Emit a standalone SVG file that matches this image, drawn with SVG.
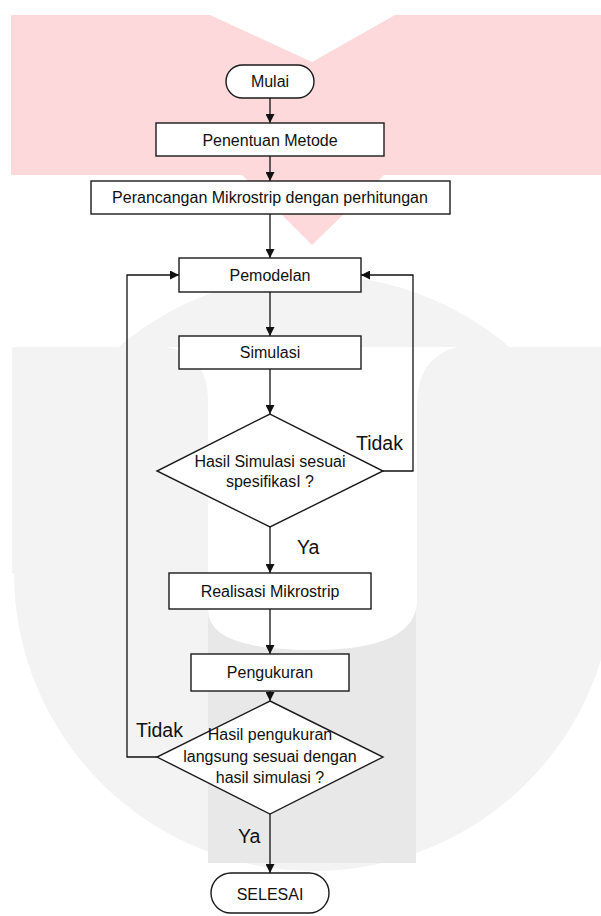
<svg xmlns="http://www.w3.org/2000/svg" width="601" height="916" viewBox="0 0 601 916">
<style>
.box{fill:#fff;stroke:#1a1a1a;stroke-width:1.4}
.t{font-family:"Liberation Sans",Arial,sans-serif;font-size:16px;fill:#111;text-anchor:middle}
.lbl{font-family:"Liberation Sans",Arial,sans-serif;font-size:19.5px;fill:#111}
.c{fill:none;stroke:#111;stroke-width:1.3}
</style>
<defs>
<marker id="ah" viewBox="0 0 10 10" refX="10" refY="5" markerWidth="9" markerHeight="9" markerUnits="userSpaceOnUse" orient="auto">
<path d="M0,0 L10,5 L0,10 z" fill="#111"/>
</marker>
</defs>
<rect width="601" height="916" fill="#fff"/>
<g id="watermark">
<path d="M11,15 H210 L312,62 L395,15 H601 V175 H384 L312,245 L242,175 H11 Z" fill="#fdd9db"/>
<rect x="12" y="347" width="589" height="226" fill="#f3f3f3"/>
<ellipse cx="314" cy="573" rx="300" ry="298" fill="#f3f3f3"/>
<rect x="12" y="347" width="589" height="40" fill="#f3f3f3"/>
<rect x="208" y="600" width="208" height="263" fill="#e8e8e8"/>
<path d="M167,347 H457 Q417,357 417,405 V600 Q417,650 312,650 Q208,650 208,610 V400 Q208,355 167,347 Z" fill="#fff"/>
</g>
<g id="connectors">
<line class="c" x1="270" y1="98" x2="270" y2="123" marker-end="url(#ah)"/>
<line class="c" x1="270" y1="156" x2="270" y2="181" marker-end="url(#ah)"/>
<line class="c" x1="270" y1="214" x2="270" y2="258" marker-end="url(#ah)"/>
<line class="c" x1="270" y1="292" x2="270" y2="336" marker-end="url(#ah)"/>
<line class="c" x1="270" y1="369" x2="270" y2="414" marker-end="url(#ah)"/>
<line class="c" x1="270" y1="527" x2="270" y2="573" marker-end="url(#ah)"/>
<line class="c" x1="270" y1="609" x2="270" y2="654" marker-end="url(#ah)"/>
<line class="c" x1="270" y1="691" x2="270" y2="701" marker-end="url(#ah)"/>
<line class="c" x1="270" y1="814" x2="270" y2="873" marker-end="url(#ah)"/>
<polyline class="c" points="383,471 413,471 413,275 361,275" marker-end="url(#ah)"/>
<polyline class="c" points="157,757 127,757 127,275 179,275" marker-end="url(#ah)"/>
<text class="lbl" x="356" y="450">Tidak</text>
<text class="lbl" x="297" y="554">Ya</text>
<text class="lbl" x="136" y="737">Tidak</text>
<text class="lbl" x="238" y="843">Ya</text>
</g>
<g id="mulai">
<rect class="box" x="226" y="65" width="88" height="33" rx="16.5"/>
<text class="t" x="270" y="87">Mulai</text>
</g>
<g id="penentuan">
<rect class="box" x="156" y="123" width="228" height="33"/>
<text class="t" x="270" y="146">Penentuan Metode</text>
</g>
<g id="perancangan">
<rect class="box" x="91" y="181" width="359" height="33"/>
<text class="t" x="270" y="203">Perancangan Mikrostrip dengan perhitungan</text>
</g>
<g id="pemodelan">
<rect class="box" x="179" y="258" width="182" height="34"/>
<text class="t" x="270" y="281">Pemodelan</text>
</g>
<g id="simulasi">
<rect class="box" x="179" y="336" width="182" height="33"/>
<text class="t" x="270" y="358">Simulasi</text>
</g>
<g id="cek-simulasi">
<polygon class="box" points="270,414 383,471 270,527 157,471"/>
<text class="t" x="270" y="467">Hasil Simulasi sesuai</text>
<text class="t" x="270" y="487">spesifikasI ?</text>
</g>
<g id="realisasi">
<rect class="box" x="169" y="573" width="202" height="36"/>
<text class="t" x="270" y="597">Realisasi Mikrostrip</text>
</g>
<g id="pengukuran">
<rect class="box" x="191" y="654" width="158" height="37"/>
<text class="t" x="270" y="678">Pengukuran</text>
</g>
<g id="cek-pengukuran">
<polygon class="box" points="270,701 383,757 270,814 157,757"/>
<text class="t" x="270" y="740">Hasil pengukuran</text>
<text class="t" x="270" y="762">langsung sesuai dengan</text>
<text class="t" x="270" y="783">hasil simulasi ?</text>
</g>
<g id="selesai">
<rect class="box" x="211" y="873" width="118" height="40" rx="20"/>
<text class="t" x="270" y="900">SELESAI</text>
</g>
</svg>
